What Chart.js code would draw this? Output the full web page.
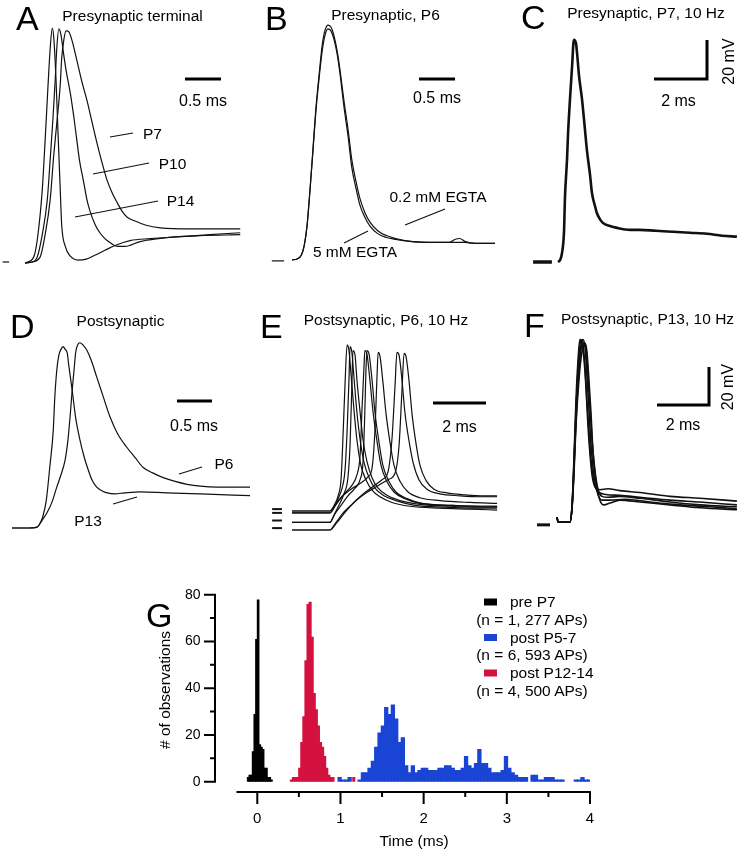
<!DOCTYPE html>
<html>
<head>
<meta charset="utf-8">
<script src="https://cdn.jsdelivr.net/npm/chart.js@4.4.1/dist/chart.umd.min.js"></script>
<style>
  html, body { margin: 0; padding: 0; background: #fff; }
  #fig { position: relative; width: 738px; height: 853px; overflow: hidden; }
  #fig canvas { position: absolute; }
  #labels { position: absolute; left: 0; top: 0; font-family: "Liberation Sans", Arial, Helvetica, sans-serif; }
</style>
</head>
<body>
<div id="fig">
  <canvas id="cA" width="245" height="260" style="left:0;top:20px"></canvas>
  <canvas id="cB" width="250" height="260" style="left:245px;top:20px"></canvas>
  <canvas id="cC" width="243" height="260" style="left:495px;top:20px"></canvas>
  <canvas id="cD" width="250" height="215" style="left:0;top:330px"></canvas>
  <canvas id="cE" width="250" height="215" style="left:250px;top:330px"></canvas>
  <canvas id="cF" width="243" height="215" style="left:495px;top:330px"></canvas>
  <canvas id="cG" width="470" height="273" style="left:140px;top:580px"></canvas>
  <svg id="labels" width="738" height="853"></svg>
</div>
<script>
// ---- Traces: time in ms, voltage in mV above resting level ----

// A: presynaptic terminal at three ages
const aT14 = [0, 0.04, 0.13, 0.18, 0.24, 0.28, 0.32, 0.35, 0.38, 0.40, 0.43, 0.46, 0.49, 0.51, 0.56, 0.63, 0.74, 0.85, 0.97, 1.11, 1.25, 1.46, 1.74, 2.15, 2.57, 2.99];
const aV14 = [0, 0.5, 4, 14.5, 37.5, 63, 91, 110, 120.5, 115.5, 95, 65.5, 37.5, 19.5, 8.5, 3.5, 1.5, 2, 4, 6.5, 9, 11.5, 12.5, 13.5, 14.5, 15.5];
const aT10 = [0, 0.10, 0.17, 0.24, 0.31, 0.35, 0.39, 0.42, 0.44, 0.47, 0.50, 0.53, 0.57, 0.63, 0.68, 0.72, 0.76, 0.81, 0.86, 0.90, 0.97, 1.04, 1.11, 1.18, 1.28, 1.39, 1.60, 1.97, 2.43, 2.99];
const aV10 = [0, 0.5, 3, 14.5, 32.5, 53, 75, 94, 109, 120, 117, 109, 99, 87, 74.5, 63, 52, 42.5, 32.5, 27, 20, 15.5, 12.5, 10.5, 8.5, 8.5, 11, 13, 14, 14.5];
const aT7 = [0, 0.10, 0.21, 0.28, 0.35, 0.40, 0.44, 0.49, 0.51, 0.54, 0.57, 0.61, 0.65, 0.72, 0.79, 0.86, 0.93, 1.00, 1.07, 1.14, 1.21, 1.28, 1.35, 1.42, 1.53, 1.67, 1.88, 2.29, 2.99];
const aV7 = [0, 0.5, 3, 14.5, 32.5, 55.5, 71, 91.5, 105, 114.5, 119, 118.5, 114.5, 104, 93, 83.5, 72.5, 61.5, 51.5, 42.5, 36, 31, 26.5, 23.5, 21.5, 19.5, 18, 17.5, 17.5];
const aMarkT = [-0.31, -0.22];
const aMarkV = [0.5];

// B: presynaptic P6, two EGTA concentrations
const bT = [0, 0.07, 0.13, 0.17, 0.21, 0.25, 0.29, 0.33, 0.38, 0.42, 0.46, 0.50, 0.54, 0.58, 0.63, 0.67, 0.72, 0.78, 0.83, 0.89, 0.94, 1.01, 1.08, 1.19, 1.31, 1.44, 1.64, 1.92, 2.19, 2.26, 2.33, 2.40, 2.54, 2.82];
const bV02 = [0, 0.5, 2.5, 7.5, 18, 36, 56.5, 77, 96.5, 110.5, 118, 120.5, 119.5, 115.5, 106.5, 96.5, 82, 66.5, 51.5, 40, 32, 24.5, 19.5, 15, 12.5, 11, 9.5, 9, 9, 10.5, 11, 9.5, 8.5, 8.5];
const bV5 = [0, 0.5, 2.5, 7.5, 18, 36, 55.5, 75.5, 94.5, 107.5, 115.5, 118.5, 117.5, 113.5, 105, 94.5, 79, 63, 47.5, 36.5, 28.5, 22, 17.5, 13.5, 11.5, 10.5, 9.5, 9, 9, 9, 9, 9, 8.5, 8.5];
const bMarkT = [-0.28, -0.11];
const bMarkV = [-0.5];

// C: presynaptic P7, 10 Hz train (superimposed)
const cT = [0, 0.08, 0.15, 0.23, 0.26, 0.34, 0.38, 0.45, 0.53, 0.60, 0.68, 0.72, 0.79, 0.91, 1.02, 1.09, 1.21, 1.28, 1.40, 1.47, 1.58, 1.70, 1.96, 2.23, 2.72, 3.09, 3.70, 4.34, 4.98, 5.62, 6.19, 6.75];
const cV = [0, 1, 4.5, 16.5, 32, 52.5, 66, 83, 100, 114, 112, 107, 96, 83, 67.5, 57.5, 44.5, 35.5, 28.5, 25, 22, 20, 18.5, 17.5, 16.5, 16.5, 16, 15.5, 15, 14.5, 13.5, 13];
const cMarkT = [-0.94, -0.23];
const cMarkV = [0];

// D: postsynaptic, P6 and P13
const dT13 = [0, 0.19, 0.36, 0.40, 0.44, 0.49, 0.54, 0.59, 0.61, 0.64, 0.67, 0.70, 0.73, 0.76, 0.79, 0.81, 0.86, 0.91, 0.97, 1.03, 1.09, 1.14, 1.21, 1.29, 1.36, 1.47, 1.61, 1.83, 2.21, 2.69, 3.40];
const dV13 = [0, 0, 0.5, 2.5, 6, 14.5, 32, 51.5, 67.5, 83, 91, 94, 95.5, 94, 92, 86, 72.5, 58, 46.5, 37.5, 30.5, 25.5, 21.5, 19.5, 18.5, 18, 18.5, 19, 18.5, 18, 17];
const dT6 = [0, 0.19, 0.36, 0.43, 0.50, 0.57, 0.64, 0.70, 0.76, 0.80, 0.83, 0.86, 0.89, 0.91, 0.94, 0.97, 1.01, 1.07, 1.14, 1.21, 1.30, 1.40, 1.51, 1.64, 1.76, 1.87, 2.01, 2.16, 2.33, 2.50, 2.69, 2.93, 3.40];
const dV6 = [0, 0, 0.5, 4, 8, 13.5, 21.5, 28, 36, 46.5, 58.5, 72.5, 84.5, 92.5, 96.5, 97.5, 96.5, 93.5, 87.5, 79.5, 69.5, 58.5, 49.5, 42.5, 37, 32, 29, 26.5, 24.5, 23, 22, 21.5, 21.5];

// E: postsynaptic P6, 10 Hz train, individual sweeps
const eT1 = [0, 1.43, 1.59, 1.74, 1.85, 1.92, 2.00, 2.08, 2.15, 2.23, 2.34, 2.45, 2.60, 2.79, 3.02, 3.32, 3.77, 4.45, 5.58, 6.72, 7.74];
const eV1 = [10, 10, 13, 18, 26.5, 47.5, 76.5, 97.5, 94.5, 81.5, 63, 47.5, 34, 26.5, 21, 17.5, 14.5, 12.5, 11.5, 11, 10.5];
const eT2 = [0, 1.43, 1.59, 1.74, 1.89, 2.00, 2.08, 2.15, 2.19, 2.26, 2.34, 2.45, 2.57, 2.72, 2.91, 3.13, 3.47, 3.92, 4.64, 5.77, 6.91, 7.74];
const eV2 = [9, 9, 12, 16.5, 22, 31.5, 52.5, 79, 96.5, 93.5, 80, 62, 47.5, 35.5, 27.5, 22, 18, 15.5, 13, 12, 11.5, 11.5];
const eT3 = [0, 1.43, 1.59, 1.77, 1.96, 2.11, 2.19, 2.26, 2.30, 2.38, 2.45, 2.57, 2.68, 2.83, 3.02, 3.25, 3.62, 4.08, 4.83, 5.96, 7.09, 7.74];
const eV3 = [4, 4, 8, 13, 19, 27.5, 44.5, 76.5, 94.5, 92, 79, 62, 47.5, 36, 27.5, 22, 18, 15.5, 13.5, 12.5, 12, 12];
const eT4 = [0, 1.43, 1.62, 1.81, 2.04, 2.26, 2.45, 2.57, 2.64, 2.72, 2.75, 2.83, 2.94, 3.06, 3.21, 3.36, 3.58, 3.85, 4.26, 4.83, 5.96, 7.09, 7.74];
const eV4 = [9, 9, 12.5, 16.5, 20, 23.5, 29, 39.5, 63, 87, 94.5, 92.5, 79, 62, 46.5, 34, 25.5, 20, 16.5, 14, 13, 12.5, 12.5];
const eT5 = [0, 1.43, 1.62, 1.85, 2.11, 2.38, 2.57, 2.68, 2.75, 2.79, 2.83, 2.91, 3.02, 3.13, 3.28, 3.43, 3.66, 3.92, 4.34, 4.91, 6.04, 7.17, 7.74];
const eV5 = [4, 4, 8.5, 13, 18, 22, 26.5, 36, 63, 84, 94.5, 92.5, 79, 62, 46.5, 34, 25.5, 20, 16.5, 14, 13, 12.5, 12.5];
const eT6 = [0, 1.43, 1.66, 1.92, 2.23, 2.57, 2.87, 3.02, 3.13, 3.21, 3.25, 3.32, 3.43, 3.55, 3.70, 3.85, 4.08, 4.38, 4.83, 5.58, 6.72, 7.74];
const eV6 = [10, 10, 13.5, 18, 21.5, 24.5, 28, 32.5, 52.5, 81.5, 93.5, 91.5, 78, 61, 46, 34, 25.5, 20, 17, 15.5, 14.5, 14];
const eT7 = [0, 1.43, 1.66, 1.96, 2.30, 2.64, 3.02, 3.40, 3.62, 3.77, 3.89, 3.96, 4.04, 4.15, 4.26, 4.42, 4.57, 4.79, 5.09, 5.58, 6.34, 7.09, 7.74];
const eV7 = [0, 0, 4, 9.5, 14, 18.5, 22.5, 26.5, 30.5, 47.5, 76.5, 93.5, 92, 79, 62, 46.5, 35.5, 26.5, 21.5, 19, 18, 17.5, 17.5];
const eT8 = [0, 1.43, 1.70, 2.04, 2.42, 2.79, 3.21, 3.62, 3.89, 4.04, 4.15, 4.23, 4.30, 4.42, 4.53, 4.68, 4.83, 5.06, 5.36, 5.85, 6.53, 7.28, 7.74];
const eV8 = [0, 0, 4, 10, 15.5, 19.5, 23, 26.5, 30, 44.5, 73.5, 93, 91.5, 78, 61, 45.5, 34, 26, 21.5, 19.5, 18.5, 18, 18];
const eMarkT = [-0.75, -0.38];
const eMarkV = [11, 9, 5, 1];

// F: postsynaptic P13, 10 Hz train, individual sweeps
const fT1 = [0, 0.04, 0.50, 0.58, 0.65, 0.73, 0.81, 0.88, 0.96, 1.04, 1.12, 1.19, 1.27, 1.35, 1.46, 1.65, 1.96, 2.42, 3.19, 4.35, 5.50, 6.92];
const fV1 = [2.5, 0, 0, 9, 32.5, 64, 85.5, 96, 94.5, 85.5, 69.5, 51, 35.5, 24.5, 18.5, 17, 17.5, 16.5, 15.5, 13.5, 12.5, 11];
const fT2 = [0, 0.04, 0.50, 0.58, 0.65, 0.73, 0.81, 0.88, 0.92, 1.00, 1.08, 1.15, 1.23, 1.31, 1.42, 1.58, 1.88, 2.42, 3.19, 4.35, 5.50, 6.92];
const fV2 = [2.5, 0, 0, 8.5, 30, 59, 81, 93, 96, 93, 81, 64, 47.5, 32.5, 21, 16, 14.5, 14, 13, 11.5, 10.5, 9];
const fT3 = [0, 0.04, 0.50, 0.58, 0.65, 0.73, 0.85, 0.92, 1.00, 1.08, 1.15, 1.23, 1.31, 1.42, 1.54, 1.73, 2.04, 2.62, 3.58, 4.73, 5.88, 6.92];
const fV3 = [2.5, 0, 0, 8, 27.5, 53.5, 80, 92, 96, 91.5, 77.5, 59, 40.5, 24.5, 16, 11.5, 11.5, 12, 10.5, 9, 8, 7];
const fT4 = [0, 0.04, 0.50, 0.58, 0.65, 0.73, 0.81, 0.92, 1.04, 1.12, 1.19, 1.27, 1.35, 1.46, 1.58, 1.73, 1.96, 2.42, 3.19, 4.35, 5.50, 6.92];
const fV4 = [2.5, 0, 0, 8.5, 28, 56, 79, 91, 94.5, 91, 77, 60, 43, 27, 17, 13.5, 13, 13.5, 12.5, 10.5, 9, 8];
const fT5 = [0, 0.04, 0.50, 0.58, 0.65, 0.73, 0.85, 0.96, 1.08, 1.15, 1.23, 1.31, 1.38, 1.50, 1.65, 1.81, 2.04, 2.42, 3.19, 4.35, 5.50, 6.92];
const fV5 = [2.5, 0, 0, 7.5, 24.5, 51, 76, 89.5, 94, 89.5, 74.5, 56.5, 38, 21, 11.5, 9, 10, 11.5, 10.5, 9, 7.5, 6.5];
const fMarkT = [-0.77, -0.27];
const fMarkV = [-1.5];

// ---- G: histogram of AP timing (bin centres in ms, counts) ----
const preT = [-0.11, -0.09, -0.07, -0.05, -0.03, -0.01, 0.01, 0.03, 0.05, 0.07, 0.09, 0.11, 0.13, 0.15, 0.17];
const preN = [2, 3, 3, 13, 29, 61, 78, 16, 15, 14, 6, 6, 2, 2, 1];
const lateT = [0.41, 0.435, 0.46, 0.485, 0.51, 0.535, 0.56, 0.585, 0.61, 0.635, 0.66, 0.685, 0.71, 0.735, 0.76, 0.785, 0.81, 0.835, 0.86, 0.885, 0.91, 1.16];
const lateN = [1, 2, 2, 2, 6, 17, 28, 52, 76, 77, 62, 38, 31, 24, 17, 15, 11, 6, 3, 2, 2, 2];
const earlyT = [0.99, 1.03, 1.07, 1.11, 1.15, 1.19, 1.23, 1.27, 1.31, 1.35, 1.39, 1.43, 1.47, 1.51, 1.55, 1.59, 1.63, 1.67, 1.71, 1.75,
  1.79, 1.83, 1.87, 1.91, 1.95, 1.99, 2.03, 2.07, 2.11, 2.15, 2.19, 2.23, 2.27, 2.31, 2.35, 2.39, 2.43, 2.47, 2.51, 2.55,
  2.59, 2.63, 2.67, 2.71, 2.75, 2.79, 2.83, 2.87, 2.91, 2.95, 2.99, 3.03, 3.07, 3.11, 3.15, 3.19, 3.23, 3.27, 3.31, 3.35,
  3.39, 3.43, 3.47, 3.51, 3.55, 3.59, 3.63, 3.67, 3.71, 3.75, 3.79, 3.83, 3.87, 3.91, 3.95, 3.99];
const earlyN = [2, 1, 1, 2, 0, 0, 1, 4, 4, 6, 9, 15, 21, 24, 32, 29, 33, 27, 17, 19,
  7, 4, 7, 4, 5, 6, 6, 5, 5, 5, 6, 6, 7, 7, 6, 5, 5, 6, 11, 7,
  6, 8, 14, 8, 8, 6, 4, 4, 4, 5, 11, 6, 4, 3, 2, 2, 2, 0, 3, 3,
  1, 1, 2, 2, 2, 1, 1, 1, 0, 0, 0, 1, 1, 2, 1, 1];
const timeTicks = [0, 1, 2, 3, 4];
const timeMinor = [0.5, 1.5, 2.5, 3.5];
const countTicks = [0, 20, 40, 60, 80];
const countMinor = [10, 30, 50, 70];
const groups = [
  { name: 'pre P7', n: '(n = 1, 277 APs)', color: '#000000' },
  { name: 'post P5-7', n: '(n = 6, 593 APs)', color: '#1a44d4' },
  { name: 'post P12-14', n: '(n = 4, 500 APs)', color: '#d4123f' }
];

const FONT = '"Liberation Sans", Arial, Helvetica, sans-serif';
Chart.defaults.font.family = FONT;
Chart.defaults.color = '#000';

const pts = (t, v) => t.map((x, i) => ({ x, y: v[i] }));

function trace(t, v, w) {
  return {
    data: pts(t, v), borderColor: '#111', borderWidth: w || 1.2,
    pointRadius: 0, fill: false, cubicInterpolationMode: 'monotone'
  };
}

// short horizontal baseline markers drawn left of the traces
function markers(t, levels, w) {
  return levels.map(lv => ({
    data: [{ x: t[0], y: lv }, { x: t[1], y: lv }],
    borderColor: '#111', borderWidth: w, pointRadius: 0, tension: 0
  }));
}

// scale bars: length comes from the chart scales
const scaleBar = {
  id: 'scaleBar',
  afterDatasetsDraw(chart, args, o) {
    if (!o || o.ms === undefined) return;
    const { ctx, scales: { x, y } } = chart;
    const w = x.getPixelForValue(o.ms) - x.getPixelForValue(0);
    const h = o.mV ? y.getPixelForValue(0) - y.getPixelForValue(o.mV) : 0;
    ctx.save();
    ctx.strokeStyle = '#000';
    ctx.lineWidth = 3;
    ctx.lineJoin = 'miter';
    ctx.beginPath();
    if (h) {
      ctx.moveTo(o.atX - w, o.atY);
      ctx.lineTo(o.atX, o.atY);
      ctx.lineTo(o.atX, o.atY - h);
    } else {
      ctx.moveTo(o.atX, o.atY);
      ctx.lineTo(o.atX + w, o.atY);
    }
    ctx.stroke();
    ctx.restore();
  }
};

function tracePanel(id, xr, yr, datasets, bar) {
  return new Chart(document.getElementById(id), {
    type: 'line',
    data: { datasets },
    options: {
      responsive: false, animation: false, events: [],
      layout: { padding: 0 },
      scales: {
        x: { type: 'linear', display: false, min: xr[0], max: xr[1] },
        y: { type: 'linear', display: false, min: yr[0], max: yr[1] }
      },
      plugins: { legend: { display: false }, tooltip: { enabled: false }, scaleBar: bar }
    },
    plugins: [scaleBar]
  });
}

tracePanel('cA', [-0.347, 3.056], [-8.72, 124.6],
  [trace(aT7, aV7), trace(aT10, aV10), trace(aT14, aV14), ...markers(aMarkT, aMarkV, 1.2)],
  { ms: 0.5, atX: 185, atY: 59 });
tracePanel('cB', [-0.653, 2.819], [-10.3, 123.1],
  [trace(bT, bV02), trace(bT, bV5), ...markers(bMarkT, bMarkV, 1.2)],
  { ms: 0.5, atX: 174, atY: 59 });
tracePanel('cC', [-2.377, 6.792], [-9.23, 124.1],
  [trace(cT, cV, 2.6), ...markers(cMarkT, cMarkV, 3.5)],
  { ms: 2, mV: 20, atX: 212, atY: 59 });
tracePanel('cD', [-0.171, 3.4], [-8.95, 104.2],
  [trace(dT6, dV6), trace(dT13, dV13)],
  { ms: 0.5, atX: 177, atY: 71 });
tracePanel('cE', [-1.585, 7.849], [-7.9, 105.3],
  [trace(eT1, eV1), trace(eT2, eV2), trace(eT3, eV3), trace(eT4, eV4),
   trace(eT5, eV5), trace(eT6, eV6), trace(eT7, eV7), trace(eT8, eV8),
   ...markers(eMarkT, eMarkV, 2)],
  { ms: 2, atX: 183, atY: 73 });
tracePanel('cF', [-2.385, 6.962], [-12.1, 101.05],
  [trace(fT1, fV1, 1.6), trace(fT2, fV2, 1.6), trace(fT3, fV3, 1.6), trace(fT4, fV4, 1.6),
   trace(fT5, fV5, 1.6), ...markers(fMarkT, fMarkV, 3)],
  { ms: 2, mV: 20, atX: 214, atY: 75 });

// detached axes for the histogram: y axis set off to the left, x axis below the bars
const histAxes = {
  id: 'histAxes',
  afterDraw(chart, args, o) {
    const { ctx, chartArea, scales: { x, y } } = chart;
    const ax = chartArea.left - o.yGap;
    const ay = chartArea.bottom;
    ctx.save();
    ctx.strokeStyle = '#000';
    ctx.lineWidth = 2;
    ctx.beginPath();
    ctx.moveTo(ax, y.getPixelForValue(0) + 1);
    ctx.lineTo(ax, y.getPixelForValue(countTicks[countTicks.length - 1]) - 1);
    countTicks.forEach(v => { const p = y.getPixelForValue(v); ctx.moveTo(ax - 11, p); ctx.lineTo(ax, p); });
    countMinor.forEach(v => { const p = y.getPixelForValue(v); ctx.moveTo(ax - 5, p); ctx.lineTo(ax, p); });
    ctx.moveTo(x.getPixelForValue(x.min), ay);
    ctx.lineTo(x.getPixelForValue(timeTicks[timeTicks.length - 1]) + 1, ay);
    timeTicks.forEach(v => { const p = x.getPixelForValue(v); ctx.moveTo(p, ay); ctx.lineTo(p, ay + 12); });
    timeMinor.forEach(v => { const p = x.getPixelForValue(v); ctx.moveTo(p, ay); ctx.lineTo(p, ay + 5); });
    ctx.stroke();

    ctx.fillStyle = '#000';
    ctx.font = '14px ' + FONT;
    ctx.textAlign = 'right';
    ctx.textBaseline = 'middle';
    countTicks.forEach(v => ctx.fillText(String(v), ax - o.yLabelGap, y.getPixelForValue(v)));
    ctx.font = '15px ' + FONT;
    ctx.textAlign = 'center';
    ctx.textBaseline = 'alphabetic';
    timeTicks.forEach(v => ctx.fillText(String(v), x.getPixelForValue(v), ay + o.xLabelDrop));
    ctx.restore();
  }
};

// each group has its own bin width, so each sits on its own (hidden) time axis
const hiddenTime = () => ({ type: 'linear', display: false, offset: false, min: -0.25, max: 4 });
new Chart(document.getElementById('cG'), {
  type: 'bar',
  data: {
    datasets: [
      { label: groups[0].name, data: pts(preT, preN), backgroundColor: groups[0].color, xAxisID: 'x', barPercentage: 1.6 },
      { label: groups[2].name, data: pts(lateT, lateN), backgroundColor: groups[2].color, xAxisID: 'xLate', barPercentage: 1.5 },
      { label: groups[1].name, data: pts(earlyT, earlyN), backgroundColor: groups[1].color, xAxisID: 'xEarly', barPercentage: 1.3 }
    ]
  },
  options: {
    responsive: false, animation: false, events: [],
    layout: { padding: { left: 96.5, top: 14.7, right: 20, bottom: 61 } },
    datasets: { bar: { grouped: false, categoryPercentage: 1, borderWidth: 0 } },
    scales: {
      x: hiddenTime(),
      xLate: hiddenTime(),
      xEarly: hiddenTime(),
      y: { type: 'linear', display: false, min: -4.4, max: 80 }
    },
    plugins: {
      legend: { display: false }, tooltip: { enabled: false },
      histAxes: { yGap: 21.5, yLabelGap: 14.5, xLabelDrop: 31 }
    }
  },
  plugins: [histAxes]
});

// ---- text and leader lines ----
const svg = document.getElementById('labels');
const NS = 'http://www.w3.org/2000/svg';
function addText(t, x, y, size, anchor, rot) {
  const el = document.createElementNS(NS, 'text');
  el.setAttribute('x', x); el.setAttribute('y', y);
  el.setAttribute('font-size', size);
  el.setAttribute('text-anchor', anchor || 'start');
  el.setAttribute('fill', '#000');
  if (rot) el.setAttribute('transform', `rotate(${rot} ${x} ${y})`);
  el.textContent = t;
  svg.appendChild(el);
}
function addLine(x1, y1, x2, y2, w) {
  const el = document.createElementNS(NS, 'line');
  el.setAttribute('x1', x1); el.setAttribute('y1', y1);
  el.setAttribute('x2', x2); el.setAttribute('y2', y2);
  el.setAttribute('stroke', '#111'); el.setAttribute('stroke-width', w || 1.2);
  svg.appendChild(el);
}

// panel letters
[['A', 16, 30], ['B', 265, 30], ['C', 521, 28.5], ['D', 10, 338], ['E', 260, 338], ['F', 524, 337], ['G', 146, 627]]
  .forEach(([t, x, y]) => addText(t, x, y, 34));

// panel titles
addText('Presynaptic terminal', 132.5, 20.5, 15.5, 'middle');
addText('Presynaptic, P6', 385.5, 19.5, 15.5, 'middle');
addText('Presynaptic, P7, 10 Hz', 646, 18, 15.5, 'middle');
addText('Postsynaptic', 120.5, 326, 15.5, 'middle');
addText('Postsynaptic, P6, 10 Hz', 386, 325, 15.5, 'middle');
addText('Postsynaptic, P13, 10 Hz', 647.5, 323.5, 15.5, 'middle');

// scale bar labels
addText('0.5 ms', 203, 106, 16, 'middle');
addText('0.5 ms', 437, 103, 16, 'middle');
addText('2 ms', 678.5, 106, 16, 'middle');
addText('20 mV', 733.5, 61.5, 16, 'middle', -90);
addText('0.5 ms', 194, 431, 16, 'middle');
addText('2 ms', 459.5, 432, 16, 'middle');
addText('2 ms', 683, 430, 16, 'middle');
addText('20 mV', 732.5, 387, 16, 'middle', -90);

// trace labels with leader lines
addText('P7', 152.5, 138.5, 15.5, 'middle');
addText('P10', 172.5, 169, 15.5, 'middle');
addText('P14', 180.5, 206, 15.5, 'middle');
addLine(110, 137, 133, 133); addLine(93, 174, 149, 163); addLine(75, 217, 158, 201);
addText('0.2 mM EGTA', 438, 202, 15.5, 'middle');
addText('5 mM EGTA', 355, 257, 15.5, 'middle');
addLine(405, 225, 445, 209); addLine(344, 243, 368, 231);
addText('P6', 224, 468.5, 15.5, 'middle');
addText('P13', 88, 526, 15.5, 'middle');
addLine(179, 474, 202, 467); addLine(113, 504, 137, 497);

// histogram axis titles
addText('# of observations', 169.5, 690, 15.5, 'middle', -90);
addText('Time (ms)', 414, 846, 15.5, 'middle');

// histogram legend
groups.forEach((g, i) => {
  const base = 607 + i * 35.5;
  const r = document.createElementNS(NS, 'rect');
  r.setAttribute('x', 484); r.setAttribute('y', base - 8.5);
  r.setAttribute('width', 13); r.setAttribute('height', 7);
  r.setAttribute('fill', g.color);
  svg.appendChild(r);
  addText(g.name, 510, base, 15.5, 'start');
  addText(g.n, 532, base + 17.5, 15.5, 'middle');
});
</script>
</body>
</html>
